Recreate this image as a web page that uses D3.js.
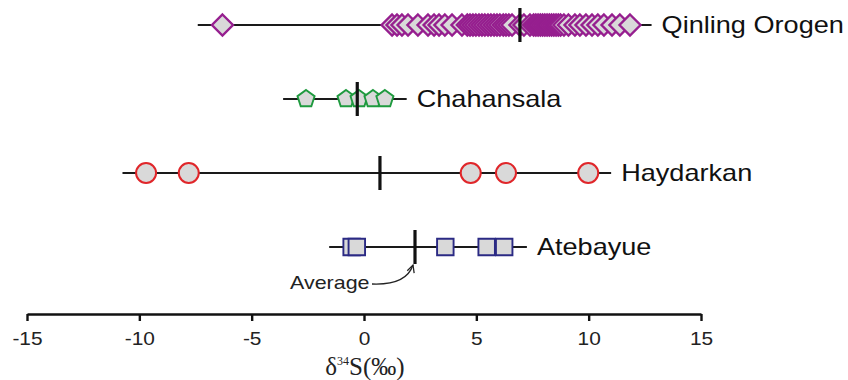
<!DOCTYPE html>
<html>
<head>
<meta charset="utf-8">
<script src="https://cdn.jsdelivr.net/npm/d3@7"></script>
<style>
  body { margin: 0; background: #fff; }
</style>
</head>
<body>
<div id="chart"></div>
<script>
// groups, top to bottom
var groups = ["Qinling Orogen", "Chahansala", "Haydarkan", "Atebayue"];

// d34S values (permil)
var qinling = [-6.3, 1.25, 1.47, 1.69, 1.96, 2.4, 2.85, 3.12, 3.34, 3.6, 3.92, 4.36, 4.6, 4.72, 4.85, 4.98,
               5.12, 5.25, 5.38, 5.52, 5.65, 5.79, 5.92, 6.05, 6.2, 6.32, 6.45, 6.59, 6.94, 7.12,
               7.39, 7.55, 7.65, 7.75, 7.85, 7.95, 8.05, 8.15, 8.25, 8.35, 8.45, 8.55, 8.65, 8.75,
               8.9, 9.1, 9.39, 9.61, 9.88, 10.15, 10.41, 10.68, 11.04, 11.39, 11.84];
var chahansala = [-2.58, -0.8, -0.22, 0.4, 0.93];
var haydarkan = [-9.7, -7.8, 4.75, 6.32, 9.98];
var atebayue = [-0.55, -0.32, 3.62, 5.46, 6.24];

// range line ends and averages
var lineMin = [-7.4, -3.6, -10.75, -1.55];
var lineMax = [12.8, 1.9, 11.0, 7.25];
var averages = [6.94, -0.3, 0.71, 2.27];

var xTicks = [-15, -10, -5, 0, 5, 10, 15];

var allValues = [qinling, chahansala, haydarkan, atebayue];
var strokes = ["#961f8f", "#1f9a3f", "#e0262a", "#2b2a84"];
var strokeW = [2.4, 1.9, 2, 1.9];
var markFill = "#d9d9d9";

var width = 848, height = 380;
var sans = "'Liberation Sans', Arial, sans-serif";
var stretch = 1.13;   // text in the picture is a little wide

var svg = d3.select("#chart").append("svg").attr("width", width).attr("height", height);

var x = d3.scaleLinear().domain([-15, 15]).range([27, 701]);
var y = d3.scalePoint().domain(groups).range([25, 247]);

// wide text helper: place at (px,py) and stretch horizontally
function wideText(sel, px, py, size, str, anchor) {
  return sel.append("text")
    .attr("transform", "translate(" + px + "," + py + ") scale(" + stretch + ",1)")
    .attr("text-anchor", anchor || "start")
    .style("font-family", sans)
    .style("font-size", size + "px")
    .attr("fill", "#111")
    .text(str);
}

// custom marker shapes
var diamond = { draw: function(ctx, size) {
  var r = Math.sqrt(size) / 2;
  ctx.moveTo(0, -r); ctx.lineTo(r, 0); ctx.lineTo(0, r); ctx.lineTo(-r, 0); ctx.closePath();
}};
var pentagon = { draw: function(ctx, size) {
  var r = Math.sqrt(size) / 2;
  for (var i = 0; i < 5; i++) {
    var a = -Math.PI / 2 + i * 2 * Math.PI / 5;
    if (i == 0) ctx.moveTo(r * Math.cos(a), r * Math.sin(a));
    else ctx.lineTo(r * Math.cos(a), r * Math.sin(a));
  }
  ctx.closePath();
}};
var circle = { draw: function(ctx, size) {
  var r = Math.sqrt(size) / 2;
  ctx.moveTo(r, 0); ctx.arc(0, 0, r, 0, 2 * Math.PI);
}};
var square = { draw: function(ctx, size) {
  var r = Math.sqrt(size) / 2;
  ctx.rect(-r, -r, 2 * r, 2 * r);
}};
var shapes = [d3.symbol(diamond, 21 * 21), d3.symbol(pentagon, 18 * 18),
              d3.symbol(circle, 20 * 20), d3.symbol(square, 16.5 * 16.5)];

groups.forEach(function(name, i) {
  var g = svg.append("g").attr("transform", "translate(0," + y(name) + ")");

  g.append("line")
    .attr("x1", x(lineMin[i])).attr("x2", x(lineMax[i]))
    .attr("stroke", "#1a1a1a").attr("stroke-width", 1.9);

  g.selectAll("path.mark").data(allValues[i]).enter().append("path")
    .attr("class", "mark")
    .attr("d", shapes[i])
    .attr("transform", function(d) { return "translate(" + x(d) + ",0)"; })
    .attr("fill", markFill)
    .attr("stroke", strokes[i])
    .attr("stroke-width", strokeW[i]);

  g.append("line")
    .attr("x1", x(averages[i])).attr("x2", x(averages[i]))
    .attr("y1", -17).attr("y2", 17)
    .attr("stroke", "#111").attr("stroke-width", 3.2);

  wideText(g, x(lineMax[i]) + 10, 8, 24, name);
});

// "Average" note with curved arrow
var avgY = y("Atebayue");
var ax = x(averages[3]);
wideText(svg, 290, avgY + 42, 19, "Average").attr("fill", "#222");
svg.append("defs").append("marker")
  .attr("id", "arr").attr("viewBox", "0 0 10 10").attr("refX", 9).attr("refY", 5)
  .attr("markerWidth", 7).attr("markerHeight", 7).attr("orient", "auto")
  .append("path").attr("d", "M1,1 L9,5 L1,9").attr("fill", "none")
  .attr("stroke", "#222").attr("stroke-width", 1.4);
svg.append("path")
  .attr("d", "M" + 372 + "," + (avgY + 37) + " C" + (ax - 18) + "," + (avgY + 38) + " " + (ax - 6) + "," + (avgY + 30) + " " + (ax - 2) + "," + (avgY + 18))
  .attr("fill", "none").attr("stroke", "#222").attr("stroke-width", 1.3)
  .attr("marker-end", "url(#arr)");

// x axis
var axis = svg.append("g")
  .attr("transform", "translate(0,314)")
  .call(d3.axisBottom(x).tickValues(xTicks).tickSize(7).tickSizeOuter(0).tickFormat(""));
axis.select(".domain").attr("stroke", "#111").attr("stroke-width", 2.6);
axis.selectAll(".tick line").attr("stroke", "#111").attr("stroke-width", 2.4);
axis.selectAll(".tick").each(function(d) {
  wideText(d3.select(this), 0, 31, 18.5, d, "middle").attr("fill", "#222");
});

var title = svg.append("text")
  .attr("transform", "translate(" + (x(0) + 1) + ",375)")
  .attr("text-anchor", "middle")
  .style("font-family", "'Liberation Serif', 'Times New Roman', serif")
  .style("font-size", "25px").attr("fill", "#222");
title.append("tspan").text("δ");
title.append("tspan").style("font-size", "12px").attr("dy", -10).text("34");
title.append("tspan").attr("dy", 10).text("S(‰)");
</script>
</body>
</html>
